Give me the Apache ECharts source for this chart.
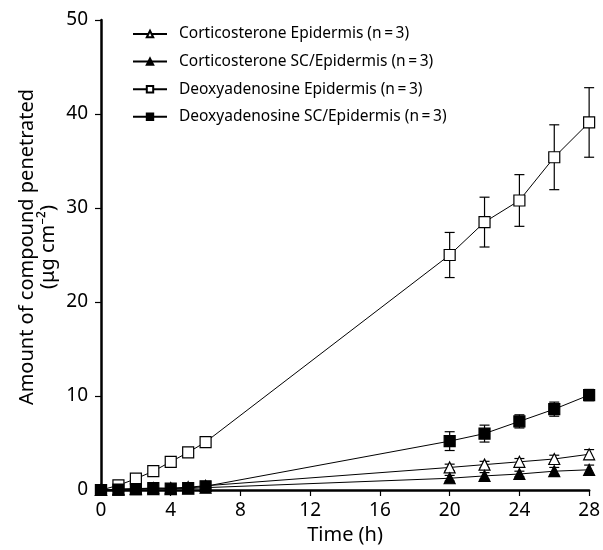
<!DOCTYPE html>
<html><head><meta charset="utf-8">
<script src="https://cdn.jsdelivr.net/npm/echarts@6/dist/echarts.min.js"></script>
<style>html,body{margin:0;padding:0;background:#fff}#c{width:603px;height:550px}</style>
</head><body><div id="c"></div>
<script>
const times = [0, 1, 2, 3, 4, 5, 6, 20, 22, 24, 26, 28];
const xTicks = [0, 4, 8, 12, 16, 20, 24, 28];
const yTicks = [0, 10, 20, 30, 40, 50];
const seriesNames = [
  'Corticosterone Epidermis (n\u2009=\u20093)',
  'Corticosterone SC/Epidermis (n\u2009=\u20093)',
  'Deoxyadenosine Epidermis (n\u2009=\u20093)',
  'Deoxyadenosine SC/Epidermis (n\u2009=\u20093)'
];
const cortEpiMean = [0, 0.1, 0.15, 0.2, 0.2, 0.3, 0.45, 2.4, 2.7, 3.0, 3.3, 3.8];
const cortEpiErr  = [0, 0, 0, 0, 0, 0, 0, 0.35, 0.35, 0.35, 0.4, 0.5];
const cortScMean  = [0, 0.05, 0.08, 0.1, 0.1, 0.15, 0.25, 1.25, 1.5, 1.7, 2.0, 2.15];
const cortScErr   = [0, 0, 0, 0, 0, 0, 0, 0.3, 0.35, 0.3, 0.4, 0.5];
const deoxEpiMean = [0, 0.5, 1.2, 2.0, 3.0, 4.0, 5.1, 25.0, 28.5, 30.8, 35.4, 39.1];
const deoxEpiErr  = [0, 0, 0, 0, 0, 0, 0, 2.4, 2.65, 2.75, 3.45, 3.7];
const deoxScMean  = [0, 0.05, 0.1, 0.2, 0.15, 0.2, 0.4, 5.2, 6.0, 7.3, 8.6, 10.1];
const deoxScErr   = [0, 0, 0, 0, 0, 0, 0, 1.0, 0.9, 0.7, 0.75, 0.6];

const FONT = 'Noto Sans';
function pts(m){ return times.map((t,i)=>[t,m[i]]); }
function errData(m,e){ return times.map((t,i)=>[t,m[i]-e[i],m[i]+e[i]]).filter((d,i)=>e[i]>0); }
function errSeries(m,e){
  return {
    type:'custom', silent:true, z:1,
    data: errData(m,e),
    renderItem:function(params, api){
      const x = api.value(0);
      const lo = api.coord([x, api.value(1)]);
      const hi = api.coord([x, api.value(2)]);
      const w = 5;
      const st = {stroke:'#000', lineWidth:1.2};
      return {type:'group', children:[
        {type:'line', shape:{x1:lo[0],y1:lo[1],x2:hi[0],y2:hi[1]}, style:st},
        {type:'line', shape:{x1:lo[0]-w,y1:lo[1],x2:lo[0]+w,y2:lo[1]}, style:st},
        {type:'line', shape:{x1:hi[0]-w,y1:hi[1],x2:hi[0]+w,y2:hi[1]}, style:st}
      ]};
    }
  };
}
function lineSeries(name, m, symbol, filled, size){
  return {
    name:name, type:'line', data:pts(m), symbol:symbol, symbolSize:size, z:3,
    showAllSymbol:true,
    lineStyle:{color:'#000', width:1},
    itemStyle:{color: filled ? '#000' : '#fff', borderColor:'#000', borderWidth:1.2},
    emphasis:{disabled:true}, animation:false
  };
}
const chart = echarts.init(document.getElementById('c'), null, {renderer:'canvas'});
chart.setOption({
  animation:false,
  textStyle:{fontFamily:FONT},
  grid:{left:101, right:12, top:20, bottom:59, containLabel:false},
  legend:{
    orient:'vertical', left:132, top:26, padding:0, itemWidth:34, itemHeight:8, itemGap:11.6,
    textStyle:{fontFamily:FONT, fontSize:15.5, lineHeight:14, color:'#000', padding:[0,0,0,7]},
    data: seriesNames
  },
  xAxis:{
    type:'value', min:0, max:28, interval:4,
    name:'Time (h)', nameLocation:'middle', nameGap:35,
    nameTextStyle:{fontFamily:FONT, fontSize:20, color:'#000'},
    axisLine:{show:true, onZero:false, lineStyle:{color:'#000', width:2.5}},
    axisTick:{show:true, length:6, lineStyle:{color:'#000', width:1.2}},
    axisLabel:{fontFamily:FONT, fontSize:19, color:'#000', margin:11},
    splitLine:{show:false}
  },
  yAxis:{
    type:'value', min:0, max:50, interval:10,
    name:'Amount of compound penetrated\n(\u03bcg cm\u207b\u00b2)', nameLocation:'middle', nameGap:42,
    nameMoveOverlap:false,
    nameTextStyle:{fontFamily:FONT, fontSize:20, color:'#000', lineHeight:21, align:'center', padding:[0,0,0,16]},
    axisLine:{show:true, onZero:false, lineStyle:{color:'#000', width:2.5}},
    axisTick:{show:true, length:6, lineStyle:{color:'#000', width:1.2}},
    axisLabel:{fontFamily:FONT, fontSize:19, color:'#000', margin:13},
    splitLine:{show:false}
  },
  series:[
    errSeries(cortEpiMean, cortEpiErr),
    errSeries(cortScMean, cortScErr),
    errSeries(deoxEpiMean, deoxEpiErr),
    errSeries(deoxScMean, deoxScErr),
    lineSeries(seriesNames[0], cortEpiMean, 'triangle', false, 11),
    lineSeries(seriesNames[1], cortScMean, 'triangle', true, 11),
    lineSeries(seriesNames[2], deoxEpiMean, 'rect', false, 11),
    lineSeries(seriesNames[3], deoxScMean, 'rect', true, 11)
  ]
});
</script></body></html>
